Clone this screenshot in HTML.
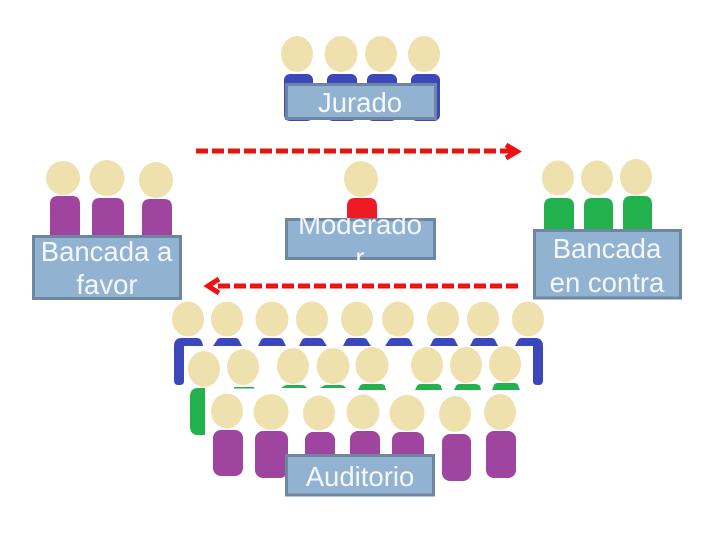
<!DOCTYPE html>
<html><head><meta charset="utf-8"><style>
html,body{margin:0;padding:0;background:#fff;width:720px;height:540px;overflow:hidden}
svg{display:block}
text{font-family:"Liberation Sans",sans-serif;font-size:27.500px;fill:#f4f8fb;text-anchor:middle}
.h{fill:#eee1ae}
.b{fill:#3c47bb}
.g{fill:#22b14c}
.p{fill:#a0459f}
.box{fill:#92b2d1;stroke:#6d87a0;stroke-width:3}
</style></head><body>
<svg width="720" height="540" viewBox="0 0 720 540" xmlns="http://www.w3.org/2000/svg">
<defs><clipPath id="mc"><rect x="285" y="218" width="151" height="42"/></clipPath></defs>

<!-- Jurado -->
<g class="h">
<ellipse cx="297" cy="54" rx="16" ry="18"/><ellipse cx="341" cy="54" rx="16.500" ry="18"/><ellipse cx="381" cy="54" rx="16" ry="18"/><ellipse cx="424" cy="54" rx="16" ry="18"/>
</g>
<g class="b">
<rect x="284" y="74" width="29" height="47" rx="6"/><rect x="327" y="74" width="30" height="47" rx="6"/><rect x="367" y="74" width="30" height="47" rx="6"/><rect x="411" y="74" width="29" height="47" rx="6"/>
</g>
<rect x="286.500" y="84.500" width="149" height="34" class="box"/>
<text x="360" y="112">Jurado</text>

<!-- arrows -->
<line x1="196" y1="151" x2="512" y2="151" stroke="#ee1111" stroke-width="5" stroke-dasharray="12 4"/>
<path d="M506 145 L517 151.500 L506 158" fill="none" stroke="#ee1111" stroke-width="5"/>
<line x1="518" y1="286" x2="218" y2="286" stroke="#ee1111" stroke-width="5" stroke-dasharray="12 4"/>
<path d="M219 279 L208 286 L219 293" fill="none" stroke="#ee1111" stroke-width="5"/>

<!-- Bancada a favor -->
<g class="h"><ellipse cx="63" cy="178" rx="17" ry="17"/><ellipse cx="107" cy="178" rx="17.500" ry="18"/><ellipse cx="156" cy="180" rx="17" ry="18"/></g>
<g class="p"><path d="M50 238V204q0-8 8-8h14q8 0 8 8v34z"/><path d="M92 238V206q0-8 8-8h16q8 0 8 8v34z"/><path d="M142 238V207q0-8 8-8h14q8 0 8 8v31z"/></g>
<rect x="33.500" y="236.500" width="147" height="62" class="box"/>
<text x="106.500" y="261">Bancada a</text>
<text x="107" y="294">favor</text>

<!-- Moderador -->
<ellipse class="h" cx="361" cy="179" rx="17" ry="18"/>
<path d="M347 222V206q0-8 8-8h14q8 0 8 8v16z" fill="#ed1c24"/>
<rect x="286.500" y="219.500" width="148" height="39" class="box"/>
<g clip-path="url(#mc)"><text x="360" y="234">Moderado</text><text x="360" y="267">r</text></g>

<!-- Bancada en contra -->
<g class="h"><ellipse cx="558" cy="178" rx="16" ry="17.500"/><ellipse cx="597" cy="178" rx="16" ry="17.500"/><ellipse cx="636" cy="177" rx="16" ry="18"/></g>
<g class="g"><path d="M544 232V206q0-8 8-8h14q8 0 8 8v26z"/><path d="M584 232V206q0-8 8-8h13q8 0 8 8v26z"/><path d="M623 232V204q0-8 8-8h13q8 0 8 8v28z"/></g>
<rect x="534.500" y="230.500" width="146" height="67.500" class="box"/>
<text x="607" y="258">Bancada</text>
<text x="607" y="292">en contra</text>

<!-- Auditorio row 1 -->
<g class="h">
<ellipse cx="188" cy="319" rx="16" ry="17.500"/><ellipse cx="227" cy="319" rx="16" ry="17.500"/><ellipse cx="272" cy="319" rx="16.500" ry="17.500"/><ellipse cx="312" cy="319" rx="16" ry="17.500"/><ellipse cx="357" cy="319" rx="16" ry="17.500"/><ellipse cx="398" cy="319" rx="16" ry="17.500"/><ellipse cx="443" cy="319" rx="16" ry="17.500"/><ellipse cx="483" cy="319" rx="16" ry="17.500"/><ellipse cx="528" cy="319" rx="16" ry="17.500"/>
</g>
<g class="b">
<path d="M174 380V346q0-8 8-8h15q5 0 6 8h-19v35q0 4-4 4h-2q-4 0-4-5z"/>
<path d="M213 346l4-6q1-2 4-2h14q3 0 4 2l3 6z"/>
<path d="M258 346l3-6q1-2 4-2h14q3 0 4 2l3 6z"/>
<path d="M299 346l3-6q1-2 4-2h13q3 0 4 2l4 6z"/>
<path d="M343 346l3-6q1-2 4-2h13q3 0 4 2l4 6z"/>
<path d="M385 346l4-6q1-2 4-2h13q3 0 4 2l3 6z"/>
<path d="M430 346l3-6q1-2 4-2h14q3 0 4 2l3 6z"/>
<path d="M470 346l3-6q1-2 4-2h14q3 0 4 2l3 6z"/>
<path d="M515 346l3-6q1-2 4-2h13q8 0 8 8v34q0 5-4 5h-2q-4 0-4-4v-35z"/>
</g>

<!-- row 2 -->
<g class="g">
<rect x="234" y="387" width="20" height="1.500"/>
<path d="M281 388l3-2q1-1 4-1h14q3 0 5 3z"/>
<path d="M320 388l3-2q1-1 4-1h14q3 0 5 3z"/>
<path d="M358 390l2-4q1-2 4-2h17q3 0 4 2l1 4z"/>
<path d="M415 390l2-4q1-2 4-2h16q3 0 4 2l1 4z"/>
<path d="M454 390l2-4q1-2 4-2h15q3 0 5 2l1 4z"/>
<path d="M492 390l2-5q1-2 4-2h16q3 0 4 2l2 5z"/>
<path d="M205 388v47h-7q-8 0-8-9v-29q0-9 8-9z"/>
</g>
<g class="h">
<ellipse cx="204" cy="369" rx="16" ry="18"/><ellipse cx="243" cy="367" rx="16" ry="18"/><ellipse cx="293" cy="366" rx="16" ry="18"/><ellipse cx="333" cy="366" rx="16.500" ry="18"/><ellipse cx="372" cy="365" rx="16.500" ry="18"/><ellipse cx="427" cy="365" rx="16" ry="18"/><ellipse cx="466" cy="365" rx="16" ry="18"/><ellipse cx="505" cy="364" rx="16" ry="18"/>
</g>

<!-- row 3 -->
<g class="h">
<ellipse cx="227" cy="411" rx="16" ry="17.500"/><ellipse cx="271" cy="412" rx="17.500" ry="18"/><ellipse cx="319" cy="413" rx="16" ry="17.500"/><ellipse cx="363" cy="412" rx="16.500" ry="17.500"/><ellipse cx="407" cy="413" rx="17.500" ry="18"/><ellipse cx="455" cy="414" rx="16" ry="18"/><ellipse cx="500" cy="412" rx="16" ry="18"/>
</g>
<g class="p">
<rect x="213" y="430" width="30" height="46" rx="8"/>
<rect x="255" y="431" width="33" height="47" rx="8"/>
<rect x="305" y="432" width="30" height="30" rx="8"/>
<rect x="350" y="431" width="30" height="30" rx="8"/>
<rect x="392" y="432" width="32" height="30" rx="8"/>
<rect x="442" y="434" width="29" height="47" rx="8"/>
<rect x="486" y="431" width="30" height="47" rx="8"/>
</g>
<rect x="286.500" y="455.500" width="147" height="39.500" class="box"/>
<text x="360" y="486">Auditorio</text>
</svg>
</body></html>
